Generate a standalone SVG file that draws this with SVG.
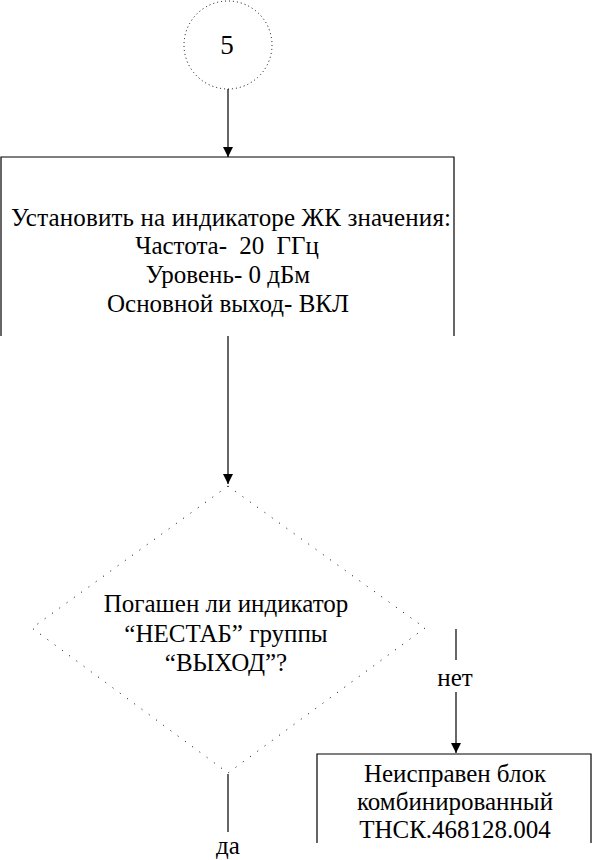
<svg xmlns="http://www.w3.org/2000/svg" width="592" height="860" viewBox="0 0 592 860">
<style>
  .t { font-family: "Liberation Serif", "Times New Roman", serif; fill: #000; text-anchor: middle; }
  .b { font-size: 25px; }
  .lbl { font-size: 25px; }
  .edge { stroke: #000; stroke-width: 1.2; fill: none; }
  .dot { stroke: #000; stroke-width: 1; fill: none; stroke-dasharray: 1 3; }
  .dia { stroke: #000; stroke-width: 1; fill: none; stroke-dasharray: 1 8; }
  .box { stroke: #000; stroke-width: 1.2; fill: none; }
</style>
<defs>
  <marker id="arr" viewBox="0 0 10 10" refX="10" refY="5" markerWidth="10" markerHeight="10" markerUnits="userSpaceOnUse" orient="auto">
    <path d="M0,0 L10,5 L0,10 z" fill="#000"/>
  </marker>
</defs>
<rect width="592" height="860" fill="#fff"/>
<g id="connectors">
  <line class="edge" x1="228" y1="89" x2="228" y2="157" marker-end="url(#arr)"/>
  <line class="edge" x1="228" y1="336" x2="228" y2="484" marker-end="url(#arr)"/>
  <line class="edge" x1="456" y1="629" x2="456" y2="660"/>
  <line class="edge" x1="456" y1="692" x2="456" y2="753" marker-end="url(#arr)"/>
  <line class="edge" x1="228" y1="774" x2="228" y2="832"/>
  <text class="t lbl" x="455" y="686">нет</text>
  <text class="t lbl" x="228" y="854">да</text>
</g>
<g id="node-connector-5">
  <circle class="dot" cx="228" cy="45" r="44"/>
  <text class="t" x="227" y="54" font-size="27">5</text>
</g>
<g id="node-set-indicator">
  <path class="box" d="M1,336 V157 H454 V336"/>
  <text class="t b" x="231" y="226" textLength="440">Установить на индикаторе ЖК значения:</text>
  <text class="t b" x="227" y="254" word-spacing="6">Частота- 20 ГГц</text>
  <text class="t b" x="228" y="283">Уровень- 0 дБм</text>
  <text class="t b" x="228" y="312">Основной выход- ВКЛ</text>
</g>
<g id="node-decision">
  <path class="dia" d="M228,486 L425,628 L228,773 L32,628 Z"/>
  <text class="t b" x="226" y="612">Погашен ли индикатор</text>
  <text class="t b" x="226" y="642">“НЕСТАБ” группы</text>
  <text class="t b" x="226" y="671">“ВЫХОД”?</text>
</g>
<g id="node-fault">
  <path class="box" d="M317,843 V754 H591 V843"/>
  <text class="t b" x="455" y="782">Неисправен блок</text>
  <text class="t b" x="455" y="810">комбинированный</text>
  <text class="t b" x="455" y="838">ТНСК.468128.004</text>
</g>
</svg>
